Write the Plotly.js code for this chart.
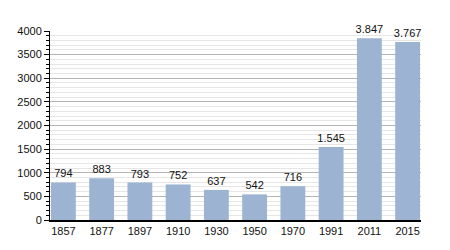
<!DOCTYPE html>
<html><head><meta charset="utf-8">
<script src="https://cdn.plot.ly/plotly-3.0.1.min.js"></script>
<style>body{margin:0;background:#fff}#c{width:450px;height:250px}</style>
</head><body><div id="c"></div>
<script>
var years = ["1857","1877","1897","1910","1930","1950","1970","1991","2011","2015"];
var population = [794, 883, 793, 752, 637, 542, 716, 1545, 3847, 3767];
var labels = ["794","883","793","752","637","542","716","1.545","3.847","3.767"];
var yTicks = [0,500,1000,1500,2000,2500,3000,3500,4000];

Plotly.newPlot('c', [{
  type: 'bar', x: years, y: population, text: labels,
  textposition: 'outside', cliponaxis: false, constraintext: 'none',
  textfont: {family: 'Liberation Sans, Arial, sans-serif', size: 11, color: '#111'},
  marker: {color: '#9cb4d2'}, width: 0.65, hoverinfo: 'none'
}], {
  width: 450, height: 250,
  margin: {l: 50, r: 29, t: 31, b: 30},
  paper_bgcolor: '#fff', plot_bgcolor: '#fff',
  showlegend: false,
  font: {family: 'Liberation Sans, Arial, sans-serif', size: 11, color: '#111'},
  xaxis: {type: 'category', range: [-0.35, 9.35], showgrid: false, ticks: '',
    showline: true, linecolor: '#000', linewidth: 1.5, zeroline: false, tickfont: {size: 11}},
  yaxis: {range: [0, 4000], tickvals: yTicks, ticks: 'outside', ticklen: 5, tickcolor: '#000',
    showline: true, linecolor: '#000', linewidth: 1, gridcolor: '#b4b4b4', gridwidth: 1,
    zeroline: false, tickfont: {size: 11},
    minor: {dtick: 100, showgrid: true, gridcolor: '#e6e6e6', ticks: 'outside', ticklen: 3, tickcolor: '#000'}}
}, {staticPlot: true});
</script></body></html>
